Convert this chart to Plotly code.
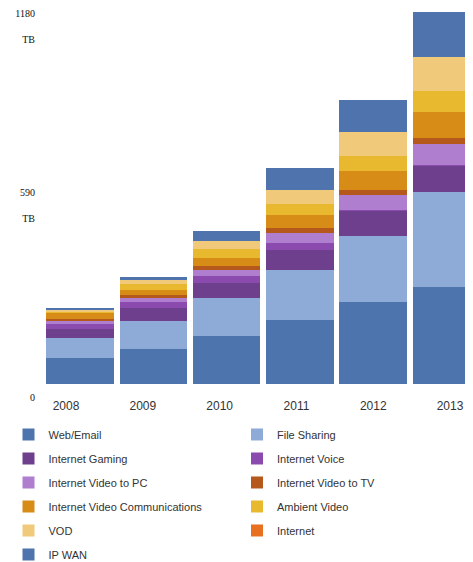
import plotly.graph_objects as go

years = ["2008", "2009", "2010", "2011", "2012", "2013"]

web_email = [85, 116, 157, 211, 272, 321]
file_sharing = [67, 93, 127, 167, 217, 312]
internet_gaming = [30, 42, 50, 64, 84, 88]
internet_voice = [17, 20, 22, 24, 3, 3]
video_to_pc = [11, 13, 22, 34, 49, 69]
video_to_tv = [6, 9, 11, 15, 17, 21]
video_comm = [20, 19, 28, 42, 60, 86]
ambient_video = [5, 19, 30, 36, 52, 69]
vod = [5, 12, 27, 49, 77, 112]
internet = [0, 0, 0, 0, 0, 0]
ip_wan = [3, 11, 33, 71, 106, 148]

series_names = ["Web/Email", "File Sharing", "Internet Gaming", "Internet Voice",
                "Internet Video to PC", "Internet Video to TV",
                "Internet Video Communications", "Ambient Video", "VOD",
                "Internet", "IP WAN"]
series_values = [web_email, file_sharing, internet_gaming, internet_voice,
                 video_to_pc, video_to_tv, video_comm, ambient_video, vod,
                 internet, ip_wan]
colors = ["#4e74ad", "#8eaad6", "#6e3f8c", "#8b4aad", "#b07ecf", "#b5581c",
          "#d78c17", "#e8b92f", "#f0c97a", "#e8711f", "#4e73ad"]

y_tick_vals = [0, 590, 1180]
y_tick_text = ["<br><br>0", "590<br><br>TB", "1180<br><br>TB"]

fig = go.Figure()
for i, (name, vals, col) in enumerate(zip(series_names, series_values, colors)):
    fig.add_trace(go.Bar(
        x=years, y=vals, name=name, marker=dict(color=col, line=dict(width=0)),
        legend="legend" if i % 2 == 0 else "legend2",
        legendgroup=name,
    ))

# helper trace carrying the year-label axis (invisible)
fig.add_trace(go.Scatter(
    x=list(range(len(years))), y=[0] * len(years), xaxis="x2", yaxis="y",
    mode="markers", marker=dict(opacity=0), showlegend=False, hoverinfo="skip",
))

# plot area: 35 px left margin, 438 px wide (73.3 px per category)
legend_common = dict(
    orientation="v", traceorder="grouped", tracegroupgap=5,
    font=dict(family="Liberation Sans, Arial, sans-serif", size=11, color="#333333"),
    bgcolor="rgba(0,0,0,0)", xref="paper", yref="paper",
    xanchor="left", yanchor="top",
)

fig.update_layout(
    width=473, height=554,
    margin=dict(l=35, r=0, t=0, b=178, autoexpand=False),
    paper_bgcolor="white", plot_bgcolor="white",
    barmode="stack", bargap=0.079,
    showlegend=True,
    legend=dict(x=0.5 / 438 - 35 / 438, y=-0.0957, **legend_common),
    legend2=dict(x=(229 - 35) / 438, y=-0.0957, **legend_common),
    xaxis=dict(type="category", range=[-0.505, 5.47], showticklabels=False,
               showgrid=False, zeroline=False, showline=False, ticks=""),
    xaxis2=dict(overlaying="x", anchor="y", side="bottom",
                range=[-0.3, -0.3 + 438 / 76.8],
                tickmode="array", tickvals=list(range(len(years))), ticktext=years,
                showgrid=False, zeroline=False, showline=False, ticks="",
                ticklabelstandoff=13,
                tickfont=dict(family="Liberation Sans, Arial, sans-serif", size=12,
                              color="#333333")),
    yaxis=dict(range=[0, 1242], tickmode="array", tickvals=y_tick_vals,
               ticktext=y_tick_text, showgrid=False, zeroline=False,
               showline=False, ticks="", ticklabelstandoff=7,
               tickfont=dict(family="Liberation Serif, Times New Roman, serif",
                             size=10, color="#111111")),
)

fig.write_html("out.html")
